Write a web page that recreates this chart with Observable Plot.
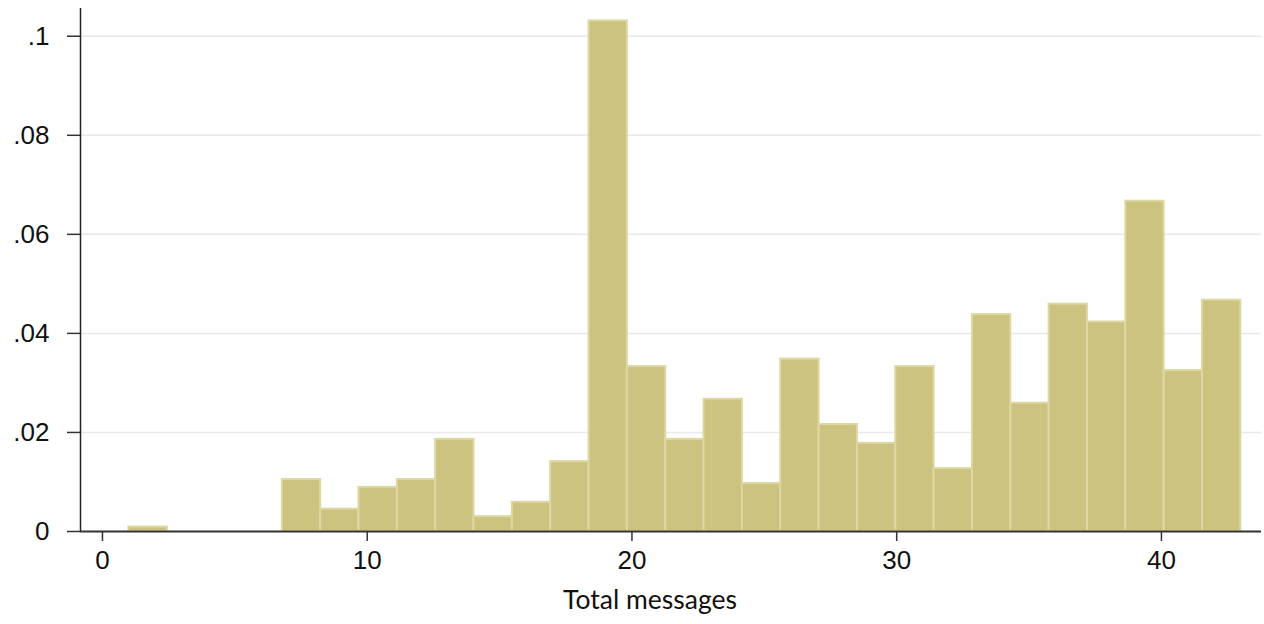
<!DOCTYPE html>
<html><head><meta charset="utf-8">
<script src="https://cdn.jsdelivr.net/npm/d3@7"></script>
<script src="https://cdn.jsdelivr.net/npm/@observablehq/plot@0.6"></script>
<style>
body{margin:0;background:#fff;}
#wrap{position:relative;width:1264px;height:624px;}
#xlabel{position:absolute;left:650px;top:583px;transform:translateX(-50%);font-family:Lato,"Open Sans",sans-serif;font-size:26.5px;color:#111;white-space:nowrap;}
</style>
</head><body>
<div id="wrap"><div id="chart"></div><div id="xlabel"></div></div>
<script>
// Histogram of "Total messages": 29 equal-width bins from 1 to 43
const binStart = 1;
const binEnd = 43;
const density = [
  0.0009, 0, 0, 0, 0.0105, 0.0045, 0.0089, 0.0105, 0.0186, 0.0030,
  0.0059, 0.0141, 0.1031, 0.0333, 0.0186, 0.0267, 0.0097, 0.0348, 0.0216, 0.0178,
  0.0333, 0.0127, 0.0438, 0.0259, 0.0459, 0.0423, 0.0667, 0.0325, 0.0467
];
const xTicks = [0, 10, 20, 30, 40];
const yTicks = [0, 0.02, 0.04, 0.06, 0.08, 0.1];
const xDomain = [-0.83, 43.78];
const yDomain = [0, 0.1056];
const xLabel = "Total messages";

const binW = (binEnd - binStart) / density.length;
const bins = density
  .map((d, i) => ({x1: binStart + i * binW, x2: binStart + (i + 1) * binW, d}))
  .filter(b => b.d > 0);

const fmtY = v => v === 0 ? "0" : String(+v.toFixed(2)).replace(/^0/, "");

const chart = Plot.plot({
  width: 1264,
  height: 585,
  marginLeft: 80,
  marginRight: 3,
  marginTop: 8,
  marginBottom: 54,
  style: {fontFamily: "'Liberation Sans', Arial, sans-serif", background: "#fff", color: "#111"},
  x: {domain: xDomain},
  y: {domain: yDomain},
  marks: [
    Plot.gridY(yTicks.filter(t => t > 0), {stroke: "#e8e8e8", strokeOpacity: 1, strokeWidth: 1.5}),
    Plot.rect(bins, {x1: "x1", x2: "x2", y1: 0, y2: "d", fill: "#cbc37f", stroke: "#ddd8a3", strokeWidth: 2}),
    Plot.ruleY([0], {stroke: "#333", strokeWidth: 2}),
    Plot.ruleX([xDomain[0]], {stroke: "#222", strokeWidth: 1.5}),
    Plot.axisY(yTicks, {tickSize: 13, tickPadding: 18, tickFormat: fmtY, fontSize: 26, label: null, stroke: "#333", strokeWidth: 1.5}),
    Plot.axisX(xTicks, {tickSize: 10, tickPadding: 9, tickFormat: d => String(d), fontSize: 26, label: null, stroke: "#333", strokeWidth: 1.5})
  ]
});
document.getElementById("chart").appendChild(chart);
document.getElementById("xlabel").textContent = xLabel;
</script>
</body></html>
